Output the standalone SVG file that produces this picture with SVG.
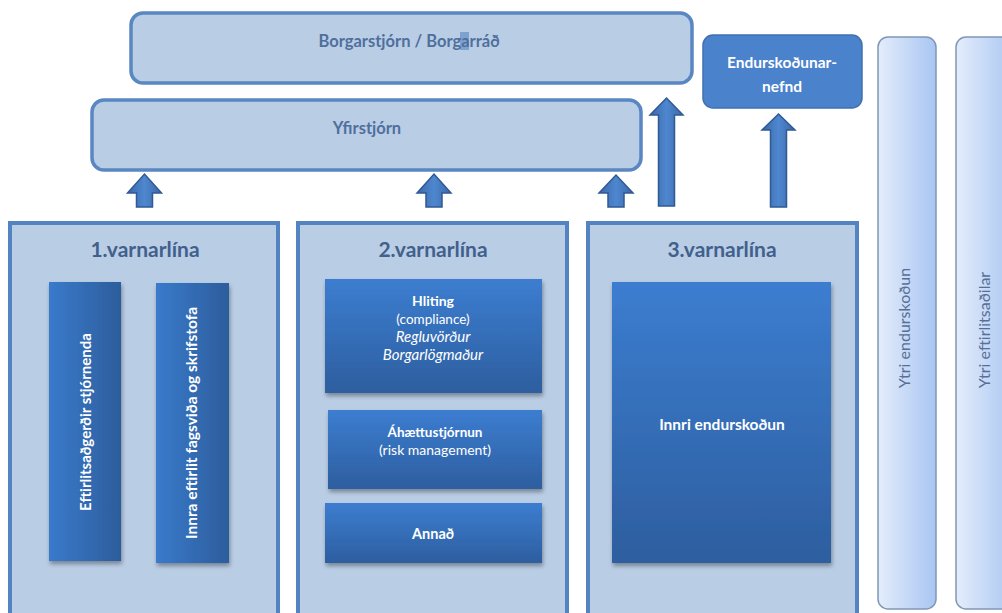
<svg xmlns="http://www.w3.org/2000/svg" width="1002" height="613" viewBox="0 0 1002 613">
<defs>
<style>
.top{fill:#b9cde5;stroke:#5a86c1;stroke-width:3.5}
.line{fill:#b9cde5;stroke:#5383c0;stroke-width:4}
.ttl{font-family:Lato,"Liberation Sans",sans-serif;font-weight:bold;fill:#4f6f9d;font-size:16.5px;text-anchor:middle}
.head{font-family:Lato,"Liberation Sans",sans-serif;font-weight:bold;fill:#41608c;font-size:21px;text-anchor:middle}
.wt{font-family:Lato,"Liberation Sans",sans-serif;fill:#ffffff;font-size:13px;text-anchor:middle}
.b{font-weight:bold}
.i{font-style:italic}
.ytri{fill:url(#gy);stroke:#8097b8;stroke-width:1.5}
.yt{font-family:Lato,"Liberation Sans",sans-serif;fill:#566f95;font-size:16px;text-anchor:middle}
.arr{fill:url(#ga);stroke:#2f5a94;stroke-width:1.5}
</style>
<linearGradient id="gv" x1="0" y1="0" x2="0" y2="1">
<stop offset="0" stop-color="#3c7dd0"/>
<stop offset="1" stop-color="#2d5e9f"/>
</linearGradient>
<linearGradient id="gh" x1="0" y1="0" x2="1" y2="0">
<stop offset="0" stop-color="#3a7acb"/>
<stop offset="1" stop-color="#2c5d9c"/>
</linearGradient>
<linearGradient id="gy" x1="0" y1="0" x2="1" y2="0">
<stop offset="0" stop-color="#e4edfb"/>
<stop offset="1" stop-color="#a8c5f2"/>
</linearGradient>
<linearGradient id="ga" x1="0" y1="0" x2="1" y2="0">
<stop offset="0" stop-color="#3b68a8"/>
<stop offset="0.5" stop-color="#4e87cf"/>
<stop offset="1" stop-color="#3b68a8"/>
</linearGradient>
<filter id="sh" x="-20%" y="-20%" width="140%" height="140%">
<feDropShadow dx="1" dy="3" stdDeviation="2" flood-color="#000" flood-opacity="0.35"/>
</filter>
</defs>

<g id="borgarstjorn">
<rect class="top" x="131" y="13" width="561" height="70" rx="12"/>
<rect x="460" y="32" width="9" height="18" fill="#7ea2cf"/>
<text class="ttl" x="409" y="47">Borgarstjórn / Borgarráð</text>
</g>

<g id="yfirstjorn">
<rect class="top" x="92" y="100" width="549" height="70" rx="12"/>
<text class="ttl" x="367" y="134">Yfirstjórn</text>
</g>

<g id="endurskodunarnefnd">
<rect x="703" y="35" width="159" height="73" rx="10" fill="#4a82cc" stroke="#3f70b2" stroke-width="1.5"/>
<text class="wt b" x="782" y="68" style="font-size:15.5px">Endurskoðunar-</text>
<text class="wt b" x="782" y="92" style="font-size:15.5px">nefnd</text>
</g>

<g id="ytri-endurskodun">
<rect class="ytri" x="878" y="37" width="58" height="572" rx="10"/>
<text class="yt" transform="translate(904,328) rotate(-90)" dy="0.35em">Ytri endurskoðun</text>
</g>

<g id="ytri-eftirlitsadilar">
<rect class="ytri" x="956" y="37" width="60" height="572" rx="10"/>
<text class="yt" transform="translate(984,330) rotate(-90)" dy="0.35em">Ytri eftirlitsaðilar</text>
</g>

<g id="varnarlina1">
<rect class="line" x="10" y="223" width="268" height="400"/>
<text class="head" x="145" y="257">1.varnarlína</text>
<g id="eftirlitsadgerdir">
<rect x="49" y="282" width="72" height="279" fill="url(#gh)" filter="url(#sh)"/>
<text class="wt b" transform="translate(86,422) rotate(-90)" dy="0.35em" style="font-size:15px">Eftirlitsaðgerðir stjórnenda</text>
</g>
<g id="innra-eftirlit">
<rect x="156" y="283" width="73" height="280" fill="url(#gh)" filter="url(#sh)"/>
<text class="wt b" transform="translate(192,423) rotate(-90)" dy="0.35em" style="font-size:15.5px">Innra eftirlit fagsviða og skrifstofa</text>
</g>
</g>

<g id="varnarlina2">
<rect class="line" x="298" y="223" width="269" height="400"/>
<text class="head" x="433" y="257">2.varnarlína</text>
<g id="hliting">
<rect x="325" y="279" width="217" height="114" fill="url(#gv)" filter="url(#sh)"/>
<text class="wt b" x="433" y="306" style="font-size:14px">Hliting</text>
<text class="wt" x="433" y="324" style="font-size:13.5px">(compliance)</text>
<text class="wt i" x="433" y="342" style="font-size:15px">Regluvörður</text>
<text class="wt i" x="433" y="360" style="font-size:15px">Borgarlögmaður</text>
</g>
<g id="ahaettustjornun">
<rect x="328" y="410" width="214" height="79" fill="url(#gv)" filter="url(#sh)"/>
<text class="wt b" x="435" y="437" style="font-size:13.5px">Áhættustjórnun</text>
<text class="wt" x="435" y="455" style="font-size:14px">(risk management)</text>
</g>
<g id="annad">
<rect x="325" y="503" width="217" height="60" fill="url(#gv)" filter="url(#sh)"/>
<text class="wt b" x="433" y="539" style="font-size:14.5px">Annað</text>
</g>
</g>

<g id="varnarlina3">
<rect class="line" x="588" y="223" width="269" height="400"/>
<text class="head" x="722" y="257">3.varnarlína</text>
<g id="innri-endurskodun">
<rect x="612" y="282" width="219" height="281" fill="url(#gv)" filter="url(#sh)"/>
<text class="wt b" x="722" y="430" style="font-size:15.5px">Innri endurskoðun</text>
</g>
</g>

<g id="connectors">
<path class="arr" d="M136.5,207 V193 H127.5 L144.5,174 L161.5,193 H152.5 V207 Z"/>
<path class="arr" d="M426,207 V193 H417 L434,174 L451,193 H442 V207 Z"/>
<path class="arr" d="M608,207 V193 H599 L616,175 L633,193 H624 V207 Z"/>
<path class="arr" d="M658.5,206 V115 H650 L666.5,98 L683,115 H674.5 V206 Z"/>
<path class="arr" d="M770.5,207 V130 H762 L778.5,114 L795,130 H786.5 V207 Z"/>
</g>
</svg>
